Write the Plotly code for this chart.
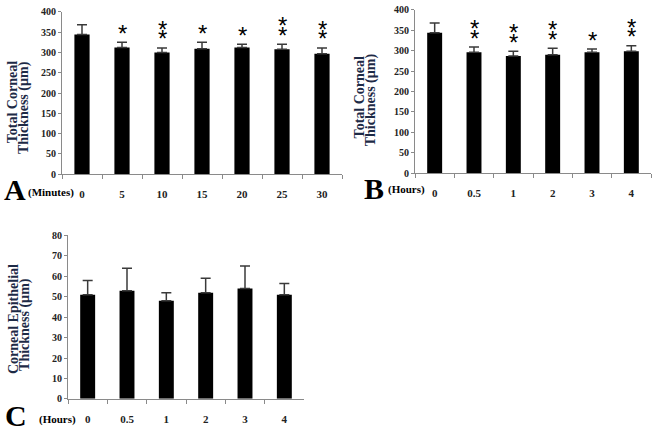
import plotly.graph_objects as go

W, H = 652, 435

# ---- data ----
a_cats = ["0", "5", "10", "15", "20", "25", "30"]
a_vals = [344, 312, 300, 309, 312, 308, 297]
a_err = [24, 13, 11, 16, 8, 12, 14]
a_stars = [0, 1, 2, 1, 1, 2, 2]

b_cats = ["0", "0.5", "1", "2", "3", "4"]
b_vals = [344, 296, 287, 290, 296, 299]
b_err = [24, 13, 12, 16, 8, 13]
b_stars = [0, 2, 2, 2, 1, 2]

c_cats = ["0", "0.5", "1", "2", "3", "4"]
c_vals = [51, 53, 48, 52, 54, 51]
c_err = [7, 11, 4, 7, 11, 5.5]

SERIF = "Liberation Serif"
TITLE_COLOR = "#1d2a46"
TICK_COLOR = "#222222"
AXIS_COLOR = "#8a8a8a"


def px(x):
    return x / W


def py(y):
    return 1 - y / H


fig = go.Figure()


def add_bars(cats, vals, errs, xa, ya):
    fig.add_trace(go.Bar(
        x=cats, y=vals, xaxis=xa, yaxis=ya, width=0.38,
        marker=dict(color="black", line=dict(width=0)),
        error_y=dict(type="data", symmetric=False, array=errs,
                     arrayminus=[0] * len(errs), color="#3a3a3a",
                     thickness=1.5, width=5),
        showlegend=False, hoverinfo="skip",
    ))


add_bars(a_cats, a_vals, a_err, "x", "y")
add_bars(b_cats, b_vals, b_err, "x2", "y2")
add_bars(c_cats, c_vals, c_err, "x3", "y3")

anns = []


def add_stars(vals, errs, stars, xr, yr):
    # category axis: annotation x given as category index
    for i, (v, e, n) in enumerate(zip(vals, errs, stars)):
        for k in range(n):
            anns.append(dict(
                x=i, y=v + e, xref=xr, yref=yr, text="*", showarrow=False,
                yanchor="middle", yshift=9 + 9.5 * k,
                font=dict(family="Liberation Sans", size=24, color="black"),
            ))


add_stars(a_vals, a_err, a_stars, "x", "y")
add_stars(b_vals, b_err, b_stars, "x2", "y2")


def ytitle(lines, xs, ycs):
    for t, x, yc in zip(lines, xs, ycs):
        anns.append(dict(
            x=px(x), y=py(yc), xref="paper", yref="paper", text=t,
            textangle=-90, showarrow=False, xanchor="center", yanchor="middle",
            font=dict(family=SERIF, size=14, color=TITLE_COLOR),
        ))


ytitle(["<b>Total Corneal</b>", "<b>Thickness (µm)</b>"], [12, 24], [99, 105])
ytitle(["<b>Total Corneal</b>", "<b>Thickness (µm)</b>"], [359, 371], [94, 97])
ytitle(["<b>Corneal Epithelial</b>", "<b>Thickness (µm)</b>"], [13, 25], [322, 328])


def label(text, x, y, size, anchor="left"):
    anns.append(dict(
        x=px(x), y=py(y), xref="paper", yref="paper", text=text,
        showarrow=False, xanchor=anchor, yanchor="middle",
        font=dict(family=SERIF, size=size, color="black"),
    ))


label("<b>A</b>", 2, 189, 30)
label("<b>(Minutes)</b>", 26, 192, 11)
label("<b>B</b>", 362, 188, 30)
label("<b>(Hours)</b>", 386, 189, 11)
label("<b>C</b>", 3, 421, 30)
label("<b>(Hours)</b>", 37, 425, 11)

xcommon = dict(type="category", showline=True, linecolor=AXIS_COLOR, linewidth=1,
               ticks="outside", tickson="boundaries", ticklen=4, tickcolor=AXIS_COLOR,
               showgrid=False, zeroline=False, ticklabelstandoff=10, tickangle=0,
               tickfont=dict(family=SERIF, size=11, color=TICK_COLOR, weight="bold"),
               fixedrange=True)
ycommon = dict(showline=True, linecolor=AXIS_COLOR, linewidth=1, ticks="outside",
               ticklen=3, tickcolor=AXIS_COLOR, showgrid=False, zeroline=False,
               tickfont=dict(family=SERIF, size=10, color=TICK_COLOR, weight="bold"),
               fixedrange=True)

fig.update_layout(
    width=W, height=H, margin=dict(l=0, r=0, t=0, b=0),
    paper_bgcolor="white", plot_bgcolor="white", bargap=0.6,
    xaxis=dict(domain=[px(62), px(342)], anchor="y", range=[-0.5, 6.5], **xcommon),
    yaxis=dict(domain=[py(173), py(6)], anchor="x", range=[0, 400], dtick=50, **ycommon),
    xaxis2=dict(domain=[px(415), px(651)], anchor="y2", range=[-0.5, 5.5], **xcommon),
    yaxis2=dict(domain=[py(172), py(4)], anchor="x2", range=[0, 400], dtick=50, **ycommon),
    xaxis3=dict(domain=[px(68), px(304)], anchor="y3", range=[-0.5, 5.5], **xcommon),
    yaxis3=dict(domain=[py(404), py(236)], anchor="x3", range=[0, 80], dtick=10, **ycommon),
    annotations=anns,
)

fig.write_html("out.html", config={"displayModeBar": False},
               post_script="document.body.style.margin='0px';")
